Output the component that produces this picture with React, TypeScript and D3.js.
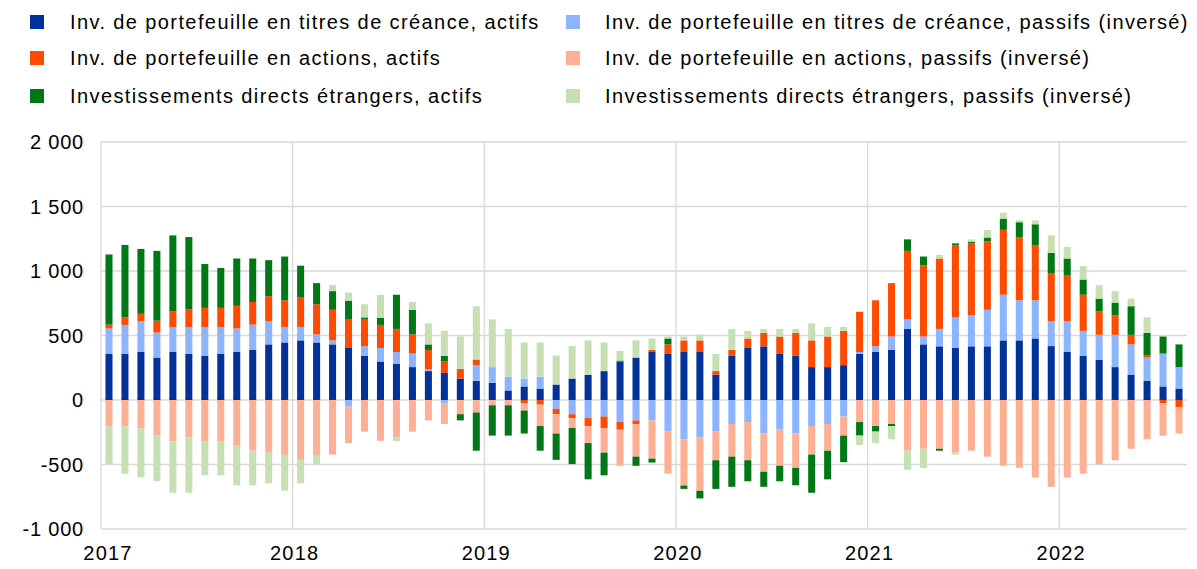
import React, { useEffect } from "react";
import * as d3 from "d3";

const years = [2017, 2018, 2019, 2020, 2021, 2022];
const nMonths = 68;
const months: string[] = [];
for (let i = 0; i < nMonths; i++) {
  const yr = 2017 + Math.floor(i / 12);
  const m = (i % 12) + 1;
  months.push(`${yr}-${m < 10 ? "0" + m : m}`);
}

const debtAssets = [357, 357, 372, 329, 372, 357, 342, 357, 372, 388, 431, 446, 462, 446, 431, 403, 342, 298, 281, 255, 224, 209, 166, 148, 133, 74, 105, 89, 120, 166, 196, 224, 298, 329, 372, 357, 372, 372, 196, 342, 403, 416, 357, 342, 255, 255, 270, 357, 372, 388, 551, 431, 416, 403, 416, 416, 462, 462, 477, 418, 372, 342, 311, 255, 196, 148, 105, 89];
const debtLiab = [197, 225, 238, 194, 194, 209, 224, 209, 182, 196, 181, 120, 104, 62, 31, -51, 74, 105, 91, 105, 16, -25, 0, 122, 122, 107, 61, 92, -69, -110, -140, -128, -171, -158, -158, -245, -304, -288, -245, -186, -171, -260, -230, -260, -202, -186, -128, 15, 44, 104, 74, 61, 135, 237, 240, 283, 354, 311, 296, 194, 240, 194, 194, 250, 235, 181, 255, 166];
const equityAssets = [30, 58, 58, 92, 120, 136, 148, 148, 176, 176, 192, 207, 232, 234, 237, 225, 212, 179, 179, 148, 148, 89, 74, 44, 0, 0, -25, -36, -41, -30, -62, -89, -59, -28, 16, 74, 90, 90, 28, 46, 74, 104, 135, 178, 207, 237, 266, 312, 357, 414, 531, 551, 546, 559, 558, 531, 503, 487, 429, 368, 352, 280, 181, 151, 74, 15, -25, -56];
const equityLiab = [-204, -204, -219, -276, -321, -288, -319, -319, -349, -393, -408, -426, -464, -426, -423, -283, -245, -316, -288, -245, -158, -161, -110, -97, -41, -41, -57, -166, -150, -77, -132, -191, -280, -253, -296, -326, -359, -416, -222, -253, -296, -296, -280, -266, -221, -207, -148, -171, -202, -186, -393, -378, -378, -408, -393, -439, -510, -526, -600, -673, -600, -571, -497, -467, -378, -304, -251, -204];
const fdiAssets = [544, 562, 503, 541, 590, 561, 340, 309, 367, 337, 280, 339, 243, 164, 145, 142, 12, 56, 265, 191, 43, 44, -48, -296, -235, -235, -178, -191, -204, -280, -281, -176, 8, -71, -31, 46, -26, -59, -222, -234, -163, -117, -120, -135, -296, -222, -206, -105, -43, -16, 89, 69, -15, 15, 13, 30, 87, 118, 160, 160, 133, 118, 100, 99, 222, 176, 132, 176];
const fdiLiab = [-293, -367, -381, -354, -398, -431, -265, -265, -312, -268, -237, -276, -181, -69, 46, 62, 102, 176, -31, 61, 163, 194, 252, 413, 370, 370, 280, 265, 224, 252, 266, 222, 74, 133, 89, 15, 30, 46, 133, 163, 59, 31, 59, 31, 132, 74, 30, -73, -89, -102, -148, -150, 28, -15, 18, 59, 46, 15, 31, 136, 89, 104, 104, 89, 59, 120, 0, 0];

const seriesKeys = ["debtA", "debtL", "eqA", "eqL", "fdiA", "fdiL"];
const seriesNames = [
  "Inv. de portefeuille en titres de créance, actifs",
  "Inv. de portefeuille en titres de créance, passifs (inversé)",
  "Inv. de portefeuille en actions, actifs",
  "Inv. de portefeuille en actions, passifs (inversé)",
  "Investissements directs étrangers, actifs",
  "Investissements directs étrangers, passifs (inversé)",
];
const seriesColors = ["#003299", "#8CB4FF", "#FF4B00", "#FFB094", "#007816", "#C6E0B4"];
const yTicks = [-1000, -500, 0, 500, 1000, 1500, 2000];

const W = 1197;
const H = 569;
const FONT = "'Liberation Sans', Arial, sans-serif";

function fmt(v: number) {
  const s = Math.abs(v).toString();
  const withSpace = s.length > 3 ? s.slice(0, s.length - 3) + " " + s.slice(s.length - 3) : s;
  return (v < 0 ? "-" : "") + withSpace;
}

export default function App() {
  useEffect(() => {
    document.body.style.margin = "0";
  }, []);

  const table = months.map((m, i) => ({
    month: m,
    debtA: debtAssets[i],
    debtL: debtLiab[i],
    eqA: equityAssets[i],
    eqL: equityLiab[i],
    fdiA: fdiAssets[i],
    fdiL: fdiLiab[i],
  }));

  const left = 101;
  const right = 1187;
  const x = d3.scaleBand<string>().domain(months).range([left, right]).paddingInner(0.56).paddingOuter(0.28);
  const xl = d3.scaleLinear().domain([0, nMonths]).range([left, right]);
  const y = d3.scaleLinear().domain([-1000, 2000]).range([529, 142]);

  const stack = d3.stack<any>().keys(seriesKeys).order(d3.stackOrderNone).offset(d3.stackOffsetDiverging);
  const stacked = stack(table);

  const legendPos = [
    { x: 30, y: 22 },
    { x: 566, y: 22 },
    { x: 30, y: 58 },
    { x: 566, y: 58 },
    { x: 30, y: 96 },
    { x: 566, y: 96 },
  ];

  return (
    <svg width={W} height={H} style={{ display: "block", background: "#fff" }} fontFamily={FONT}>
      {/* legend */}
      {seriesNames.map((name, i) => (
        <g key={name}>
          <rect x={legendPos[i].x} y={legendPos[i].y - 7} width={14} height={14} fill={seriesColors[i]} />
          <text
            x={legendPos[i].x + (i % 2 === 0 ? 40 : 39)}
            y={legendPos[i].y}
            dy="0.35em"
            fontSize={20}
            letterSpacing={1.4}
            fill="#000"
          >
            {name}
          </text>
        </g>
      ))}
      {/* horizontal gridlines */}
      {yTicks.map((t) => (
        <line key={t} x1={left} x2={right} y1={y(t)} y2={y(t)} stroke="#d9d9d9" strokeWidth={1.3} />
      ))}
      {/* vertical year gridlines */}
      {years.map((yr, k) => (
        <line key={yr} x1={xl(k * 12)} x2={xl(k * 12)} y1={y(2000)} y2={y(-1000)} stroke="#d9d9d9" strokeWidth={1.3} />
      ))}
      {/* bars */}
      {stacked.map((s, si) => (
        <g key={s.key} fill={seriesColors[si]}>
          {s.map((d: any, i: number) => {
            const y0 = y(d[0]);
            const y1 = y(d[1]);
            const h = Math.abs(y0 - y1);
            if (h < 0.01) return null;
            return <rect key={i} x={x(months[i])} width={x.bandwidth()} y={Math.min(y0, y1)} height={h} />;
          })}
        </g>
      ))}
      {/* y axis labels */}
      {yTicks.map((t) => (
        <text key={t} x={84} y={y(t)} dy="0.35em" textAnchor="end" fontSize={20} letterSpacing={0.8} fill="#000">
          {fmt(t)}
        </text>
      ))}
      {/* x axis labels */}
      {years.map((yr, k) => (
        <text
          key={yr}
          x={xl(k * 12) + (k === 0 ? 7 : 2)}
          y={553}
          dy="0.35em"
          textAnchor="middle"
          fontSize={20}
          letterSpacing={1.2}
          fill="#000"
        >
          {yr}
        </text>
      ))}
    </svg>
  );
}
